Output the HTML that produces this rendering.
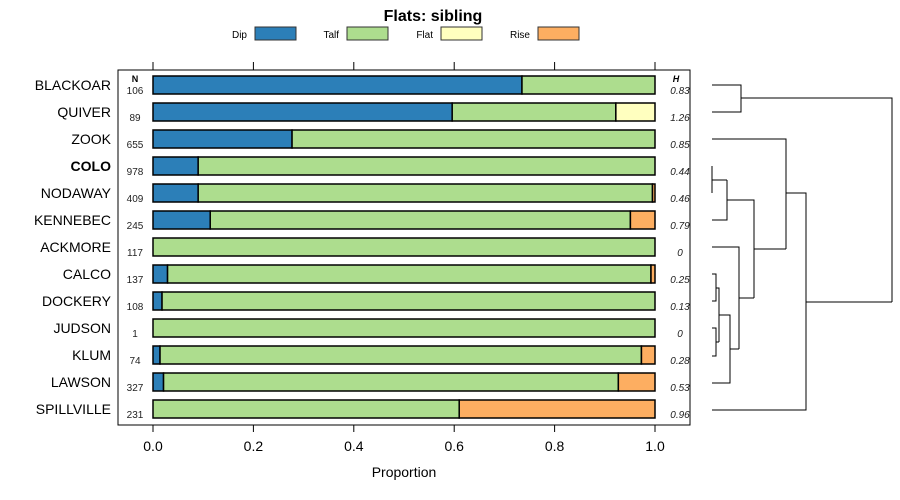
<!DOCTYPE html>
<html><head><meta charset="utf-8"><style>
body{margin:0;background:#fff;}
svg{display:block;font-family:"Liberation Sans",sans-serif;}
</style></head><body>
<svg id="c" width="900" height="500" viewBox="0 0 900 500">
<text x="433" y="21" text-anchor="middle" font-size="16" font-weight="bold">Flats: sibling</text>
<g id="legend"></g>
<rect x="118" y="70" width="572" height="355" fill="none" stroke="#000"/>
<g id="bars"></g>
<g id="axes"></g>
<text x="404" y="477" text-anchor="middle" font-size="14">Proportion</text>
<text x="135" y="82" text-anchor="middle" font-size="9" font-weight="bold">N</text>
<text x="676" y="82" text-anchor="middle" font-size="9" font-weight="bold" font-style="italic">H</text>
<g fill="none" stroke="#000" stroke-width="1">
<path d="M712 85H741V112H712M741 98H892V302"/>
<path d="M712 166V193M712 180H727M712 220H727V180M727 200H754V298M754 249H786M712 139H786V249M786 193H806V410H712M806 302H892"/>
<path d="M712 247H739V349M712 274H716V301H712M716 288H719V342M712 328H716V356H712M716 342H719M719 315H730V383H712M730 349H739M739 298H754"/>
</g>
</svg>
<script>
const sites=["BLACKOAR","QUIVER","ZOOK","COLO","NODAWAY","KENNEBEC","ACKMORE","CALCO","DOCKERY","JUDSON","KLUM","LAWSON","SPILLVILLE"];
const counts=[106,89,655,978,409,245,117,137,108,1,74,327,231];
const entropy=["0.83","1.26","0.85","0.44","0.46","0.79","0","0.25","0.13","0","0.28","0.53","0.96"];
const dip=[0.735,0.596,0.277,0.09,0.09,0.114,0,0.029,0.018,0,0.014,0.021,0];
const talf=[0.265,0.326,0.723,0.91,0.905,0.837,1,0.963,0.982,1,0.959,0.906,0.61];
const flat=[0,0.078,0,0,0,0,0,0,0,0,0,0,0];
const rise=[0,0,0,0,0.005,0.049,0,0.008,0,0,0.027,0.073,0.39];
const classes=["Dip","Talf","Flat","Rise"];
const colors=["#2c7fb8","#addd8e","#ffffbf","#fdae61"];
const ticks=[0,0.2,0.4,0.6,0.8,1.0];
const NS="http://www.w3.org/2000/svg";
const x=v=>153+v*502;
const y=i=>85+i*27;
function mk(t,a,p){const e=document.createElementNS(NS,t);for(const k in a)e.setAttribute(k,a[k]);p.appendChild(e);return e;}
const bars=document.getElementById('bars'),axes=document.getElementById('axes'),leg=document.getElementById('legend');
const lx=[255,347,441,538];
classes.forEach((c,k)=>{
  const t=mk('text',{x:lx[k]-8,y:38,'text-anchor':'end','font-size':10},leg);t.textContent=c;
  
  
  const r=mk('rect',{x:lx[k],y:27,width:41,height:13,fill:colors[k],stroke:'#333'},leg);
  
  
});
const series=[dip,talf,flat,rise];
sites.forEach((s,i)=>{
  const l=mk('text',{x:111,y:y(i)+5,'text-anchor':'end','font-size':14,'font-weight':s==='COLO'?'bold':'normal'},axes);l.textContent=s;
  
  
  const n=mk('text',{x:135,y:y(i)+9,'text-anchor':'middle','font-size':10,fill:'#222'},axes);n.textContent=counts[i];
  
  
  const h=mk('text',{x:680,y:y(i)+9,'text-anchor':'middle','font-size':10,'font-style':'italic',fill:'#222'},axes);h.textContent=entropy[i];
  
  
  let cum=0;
  series.forEach((arr,k)=>{
    const v=arr[i];if(v<=0)return;
    const r=mk('rect',{x:x(cum),y:y(i)-9,width:x(cum+v)-x(cum),height:18,fill:colors[k],stroke:'#000','stroke-width':1.5},bars);
    
    
    cum+=v;
  });
});
ticks.forEach(t=>{
  const a=mk('line',{x1:x(t),x2:x(t),y1:62,y2:70,stroke:'#000'},axes);
  
  
  const b=mk('line',{x1:x(t),x2:x(t),y1:425,y2:432,stroke:'#000'},axes);
  
  
  const tl=mk('text',{x:x(t),y:451,'text-anchor':'middle','font-size':14},axes);tl.textContent=t.toFixed(1);
  
  
});
</script>
</body></html>
